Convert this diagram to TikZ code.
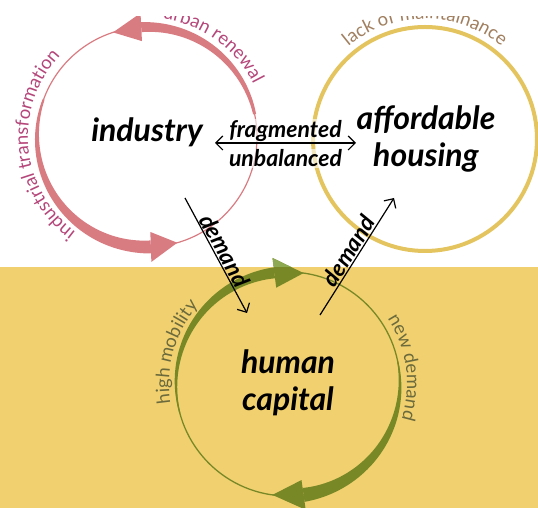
\documentclass[tikz,border=0pt]{standalone}
\usepackage{fontspec}
\setmainfont{Lato}
\usetikzlibrary{arrows.meta,decorations.text}
\definecolor{pinkc}{HTML}{D97C82}
\definecolor{pinklab}{HTML}{B5467A}
\definecolor{yelc}{HTML}{E3C45E}
\definecolor{yellab}{HTML}{A07E5E}
\definecolor{grnc}{HTML}{788826}
\definecolor{grnlight}{HTML}{8DAA52}
\definecolor{grnlab}{HTML}{6B6A3C}
\definecolor{bandc}{HTML}{F1D06F}
\newcommand{\labfont}{\fontsize{18.5}{22}\selectfont}
% cx cy r a0 a1 atip w0 w1 hw
\newcommand{\tarrow}[9]{%
 \fill plot[domain=#4:#5,samples=60,variable=\t] ({#1+(#3+0.5*((#7)+((#8)-(#7))*(\t-(#4))/((#5)-(#4))))*cos(\t)},{#2+(#3+0.5*((#7)+((#8)-(#7))*(\t-(#4))/((#5)-(#4))))*sin(\t)})
 -- plot[domain=#5:#4,samples=60,variable=\t] ({#1+(#3-0.5*((#7)+((#8)-(#7))*(\t-(#4))/((#5)-(#4))))*cos(\t)},{#2+(#3-0.5*((#7)+((#8)-(#7))*(\t-(#4))/((#5)-(#4))))*sin(\t)}) -- cycle;
 \fill ({#1+(#3+#9)*cos(#5)},{#2+(#3+#9)*sin(#5)}) -- ({#1+#3*cos(#6)},{#2+#3*sin(#6)}) -- ({#1+(#3-#9)*cos(#5)},{#2+(#3-#9)*sin(#5)}) -- cycle;}
\tikzset{
 mainlab/.style={font=\fontsize{32}{37}\selectfont\bfseries\itshape, align=center, inner sep=0pt},
 midlab/.style={font=\fontsize{23}{26}\selectfont\bfseries\itshape, inner sep=1pt},
 haze/.style={fill=white, fill opacity=0.6, text opacity=1},
 conn/.style={line width=1.2pt, draw=black},
 barb/.style={-{Straight Barb[length=7pt,width=14pt]}},
 dbarb/.style={{Straight Barb[length=7pt,width=14pt]}-{Straight Barb[length=7pt,width=14pt]}},
}
\begin{document}
\begin{tikzpicture}[x=1pt,y=1pt]
\useasboundingbox (0,0) rectangle (538,508);
\clip (0,0) rectangle (538,491);
% industry circle
\draw[pinkc, line width=1.2pt] (147,371) circle[radius=110];
\begin{scope}[fill=pinkc]
\tarrow{147}{371}{110}{12}{93}{108}{3}{10}{14}
\tarrow{147}{371}{110}{160}{272}{286}{2}{13}{15}
\end{scope}
% housing circle
\draw[yelc, line width=4pt] (425,369) circle[radius=112];
% band
\fill[bandc] (0,0) rectangle (538,241);
% human capital circle
\draw[grnc, line width=1.3pt] (288,124) circle[radius=112];
\begin{scope}[fill=grnc]
\tarrow{288}{124}{112}{195}{97}{82}{1}{11}{15}
\tarrow{288}{124}{112}{12}{-82}{-98}{1}{14}{15}
\end{scope}
\begin{scope}
\clip (0,241) rectangle (538,491);
\begin{scope}[fill=grnlight]
\tarrow{288}{124}{112}{195}{97}{82}{1}{11}{15}
\end{scope}
\end{scope}
% circle labels
\path[decorate, decoration={text along path, text={|\labfont\color{pinklab}|urban renewal}, text align=center}]
 ({147+119*cos(100)},{371+119*sin(100)}) arc[start angle=100, end angle=9, radius=119];
\path[decorate, decoration={text along path, text={|\labfont\color{pinklab}|industrial transformation}, text align=center}]
 ({147+119*cos(240)},{371+119*sin(240)}) arc[start angle=240, end angle=130, radius=119];
\path[decorate, decoration={text along path, text={|\labfont\color{yellab}|lack of maintainance}, text align=center}]
 ({425+120*cos(150)},{369+120*sin(150)}) arc[start angle=150, end angle=30, radius=120];
\path[decorate, decoration={text along path, text={|\labfont\color{grnlab}|high mobility}, text align=center}]
 ({288+119*cos(215)},{124+119*sin(215)}) arc[start angle=215, end angle=113, radius=119];
\path[decorate, decoration={text along path, text={|\labfont\color{grnlab}|new demand}, text align=center}]
 ({288+119*cos(60)},{124+119*sin(60)}) arc[start angle=60, end angle=-44, radius=119];
% main labels
\node[mainlab, anchor=base] (ind) at (147,366) {industry};
\node[mainlab] (hous) at (426,369) {affordable\\housing};
\node[mainlab] (hum) at (288,125) {human\\capital};
% connectors
\coordinate (fl) at (215,365);
\coordinate (fr) at (356,365);
\draw[conn, dbarb] (fl) -- (fr)
 node[midlab, haze, midway, above=0pt] (frag) {fragmented}
 node[midlab, haze, midway, below=5pt] (unbal) {unbalanced};
\coordinate (d1s) at (185,310);
\coordinate (d1e) at (247,195);
\draw[conn, barb] (d1s) -- (d1e) node[midlab, midway, sloped, above] (dem1) {demand};
\coordinate (d2s) at (320,193);
\coordinate (d2e) at (394,310);
\draw[conn, barb] (d2s) -- (d2e) node[midlab, midway, sloped, above] (dem2) {demand};
\end{tikzpicture}
\end{document}
